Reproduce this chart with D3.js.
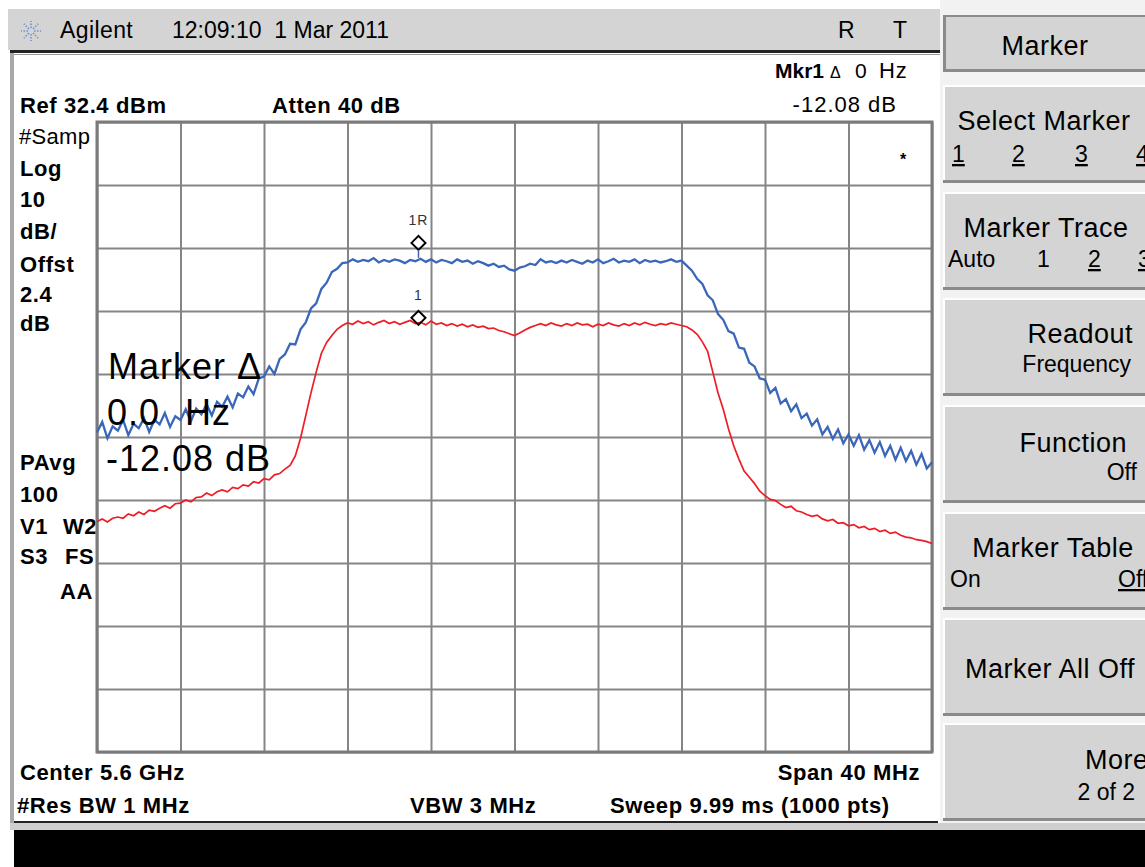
<!DOCTYPE html>
<html>
<head>
<meta charset="utf-8">
<script src="https://cdn.jsdelivr.net/npm/d3@7"></script>
<style>
  body { margin: 0; background: #fff; overflow: hidden; }
  svg { display: block; }
  text { font-family: "Liberation Sans", Arial, sans-serif; }
</style>
</head>
<body>
<svg id="screen" width="1145" height="867"></svg>
<script>
// analyzer settings
const refLevel = 32.4,
    dbPerDiv = 10,
    startMHz = -20,
    stopMHz = 20,
    stepMHz = 0.25;

const freqTicks = [-20, -16, -12, -8, -4, 0, 4, 8, 12, 16, 20];
const levelTicks = [32.4, 22.4, 12.4, 2.4, -7.6, -17.6, -27.6, -37.6, -47.6, -57.6, -67.6];

// trace 1 (red), dBm every 0.25 MHz from -20 to +20 MHz
const redTrace = [
    -31.0, -30.6, -31.1, -30.5, -30.3, -30.5, -29.8, -30.1,
    -29.5, -29.9, -29.2, -29.4, -28.9, -28.5, -28.9, -28.2,
    -28.1, -27.6, -27.9, -27.2, -27.1, -26.5, -26.9, -26.3,
    -26.0, -26.3, -25.6, -25.8, -25.2, -25.4, -24.7, -24.9,
    -24.2, -24.4, -23.6, -23.4, -22.7, -22.1, -20.6, -17.8,
    -14.2, -10.6, -7.3, -4.3, -2.6, -1.5, -0.5, 0.1,
    0.5, 0.3, 0.8, 0.4, 0.7, 0.2, 0.6, 0.9,
    0.4, 0.7, 0.3, 0.6, 0.9, 0.4, 0.6, 0.2,
    0.8, 0.3, 0.5, 0.1, 0.4, 0.0, 0.3, -0.1,
    0.2, -0.2, 0.0, -0.4, -0.3, -0.7, -0.9, -1.2,
    -1.5, -1.1, -0.6, -0.2, 0.1, 0.4, 0.1, 0.5,
    0.2, 0.0, 0.4, 0.1, 0.5, 0.2, 0.3, -0.1,
    0.3, 0.1, 0.5, 0.2, 0.0, 0.4, 0.1, 0.5,
    0.2, 0.6, 0.3, 0.1, 0.4, 0.2, 0.5, 0.3,
    0.1, -0.1, -0.6, -1.3, -2.5, -4.0, -7.3, -10.6,
    -13.2, -16.3, -19.0, -21.1, -23.0, -24.0, -25.0, -26.2,
    -26.9, -27.5, -27.7, -28.3, -28.8, -28.6, -29.3, -29.5,
    -29.9, -30.2, -30.0, -30.6, -30.9, -30.7, -31.3, -31.2,
    -31.7, -31.5, -32.0, -31.8, -32.3, -32.1, -32.6, -32.4,
    -32.9, -32.7, -33.2, -33.5, -33.6, -33.9, -34.0, -34.2,
    -34.5
];

// trace 2 (blue)
const blueTrace = [
    -16.9, -15.2, -17.8, -15.9, -16.6, -14.9, -17.3, -15.5,
    -16.2, -14.6, -16.8, -14.9, -15.6, -13.8, -16.0, -14.3,
    -14.9, -13.2, -15.1, -13.1, -14.0, -12.4, -14.2, -12.0,
    -12.8, -11.2, -12.9, -10.7, -11.3, -9.6, -10.8, -8.3,
    -8.0, -6.4, -7.6, -5.2, -4.5, -2.8, -2.9, -0.5,
    0.6, 2.8, 3.6, 5.9, 6.9, 8.6, 9.1, 10.0,
    10.1, 10.6, 10.2, 10.5, 10.3, 10.8, 10.1, 10.5,
    10.2, 10.6, 10.4, 10.0, 10.5, 10.3, 10.7, 10.2,
    10.6, 10.1, 10.5, 10.3, 10.0, 10.6, 10.2, 10.4,
    9.9, 10.3, 10.0, 9.6, 9.9, 9.4, 9.6, 9.0,
    8.8, 9.3, 9.5, 9.9, 9.7, 10.6, 10.1, 10.3,
    10.0, 10.4, 10.1, 10.5, 10.2, 9.9, 10.4, 10.1,
    10.6, 10.0, 10.3, 10.7, 10.1, 10.4, 10.2, 10.6,
    10.0, 10.5, 10.2, 10.4, 10.1, 10.3, 10.6, 10.2,
    10.4, 9.6, 8.8, 7.5, 6.7, 4.9, 4.1, 1.9,
    1.0, -0.8, -1.2, -3.4, -3.6, -5.8, -6.4, -8.3,
    -8.5, -10.6, -9.8, -12.3, -11.6, -13.5, -12.4, -14.6,
    -13.9, -15.8, -14.8, -17.2, -16.0, -17.9, -16.4, -18.6,
    -17.2, -19.0, -17.3, -19.6, -18.1, -20.1, -18.4, -20.6,
    -19.0, -21.2, -19.3, -21.4, -19.8, -22.0, -20.3, -22.6,
    -21.6
];

const markerFreqs = [-4.6, -4.6];
const markerLevels = [12.1, 0.2];
const markerNames = ['1R', '1'];

const leftLabels = ['#Samp', 'Log', '10', 'dB/', 'Offst', '2.4', 'dB'];
const softkeyTitles = ['Select Marker', 'Marker Trace', 'Readout', 'Function', 'Marker Table', 'Marker All Off', 'More'];

const colors = {
    panel: '#d4d4d4',
    grid: '#858585',
    red: '#ee1c25',
    blue: '#3b67ba'
};

const svg = d3.select('#screen');

const x = d3.scaleLinear().domain([startMHz, stopMHz]).range([97, 932]),
    y = d3.scaleLinear().domain([refLevel - dbPerDiv * 10, refLevel]).range([752, 122]);

function label(g, px, py, str, size, opts) {
    opts = opts || {};
    return g.append('text')
        .attr('x', px)
        .attr('y', py)
        .attr('font-size', size)
        .attr('font-weight', opts.bold ? 'bold' : 'normal')
        .attr('text-anchor', opts.anchor || 'start')
        .attr('letter-spacing', opts.ls || null)
        .attr('fill', opts.fill || '#000')
        .attr('text-decoration', opts.underline ? 'underline' : null)
        .text(str);
}

// frame
svg.append('rect').attr('width', 1145).attr('height', 867).attr('fill', '#fff');
svg.append('rect').attr('x', 8).attr('y', 9).attr('width', 932).attr('height', 41).attr('fill', colors.panel);
svg.append('rect').attr('x', 10).attr('y', 50).attr('width', 930).attr('height', 3).attr('fill', '#222');
svg.append('rect').attr('x', 14).attr('y', 54).attr('width', 926).attr('height', 1).attr('fill', '#999');
svg.append('rect').attr('x', 10).attr('y', 53).attr('width', 4).attr('height', 777).attr('fill', '#a8a8a8');
svg.append('rect').attr('x', 14).attr('y', 821).attr('width', 924).attr('height', 2).attr('fill', '#222');
svg.append('rect').attr('x', 10).attr('y', 823).attr('width', 1135).attr('height', 7).attr('fill', '#cfcfcf');
svg.append('rect').attr('x', 14).attr('y', 830).attr('width', 1131).attr('height', 37).attr('fill', '#000');

// header
const head = svg.append('g');
const logo = head.append('g').attr('transform', 'translate(31,31)');
d3.range(8).forEach(i => {
    const a = i * Math.PI / 4;
    logo.append('line')
        .attr('x1', Math.cos(a) * 3).attr('y1', Math.sin(a) * 3)
        .attr('x2', Math.cos(a) * 10).attr('y2', Math.sin(a) * 10)
        .attr('stroke', '#6f8fcc')
        .attr('stroke-width', 1.6)
        .attr('stroke-dasharray', '1.5,1.5');
});
label(head, 60, 38, 'Agilent', 23, { ls: 0.4 });
label(head, 172, 38, '12:09:10  1 Mar 2011', 23).attr('xml:space', 'preserve');
label(head, 838, 38, 'R', 23);
label(head, 893, 38, 'T', 23);

// annotations
const ann = svg.append('g');
const bold = { bold: true, ls: 0.6 };
label(ann, 20, 113, 'Ref 32.4 dBm', 22, bold);
label(ann, 272, 113, 'Atten 40 dB', 22, bold);
label(ann, 775, 78, 'Mkr1', 21, { bold: true });
label(ann, 830, 78, '\u0394', 16);
label(ann, 855, 78, '0', 21);
label(ann, 879, 78, 'Hz', 22, { ls: 0.8 });
label(ann, 897, 112, '-12.08 dB', 22, { anchor: 'end', ls: 1 });

label(ann, 19, 144, leftLabels[0], 22, { ls: 0.3 });
const leftY = [176, 207, 239, 272, 302, 331];
leftLabels.slice(1).forEach((t, i) => label(ann, 20, leftY[i], t, 22, bold));
label(ann, 20, 470, 'PAvg', 22, bold);
label(ann, 20, 502, '100', 22, bold);
label(ann, 20, 534, 'V1', 22, bold);
label(ann, 63, 534, 'W2', 22, bold);
label(ann, 20, 564, 'S3', 22, bold);
label(ann, 65, 564, 'FS', 22, bold);
label(ann, 60, 599, 'AA', 22, bold);

label(ann, 20, 780, 'Center 5.6 GHz', 22, bold);
label(ann, 17, 813, '#Res BW 1 MHz', 22, bold);
label(ann, 410, 813, 'VBW 3 MHz', 22, bold);
label(ann, 920, 780, 'Span 40 MHz', 22, { bold: true, ls: 0.6, anchor: 'end' });
label(ann, 610, 813, 'Sweep 9.99 ms (1000 pts)', 22, bold);

// graticule
const grid = svg.append('g');
grid.append('g')
    .attr('transform', `translate(0,${y.range()[0]})`)
    .call(d3.axisBottom(x).tickValues(freqTicks).tickSize(-(y.range()[0] - y.range()[1])).tickFormat(''));
grid.append('g')
    .attr('transform', `translate(${x.range()[0]},0)`)
    .call(d3.axisLeft(y).tickValues(levelTicks).tickSize(-(x.range()[1] - x.range()[0])).tickFormat(''));
grid.selectAll('.domain').remove();
grid.selectAll('line').attr('stroke', colors.grid).attr('stroke-width', 2);
grid.append('rect')
    .attr('x', x.range()[0]).attr('y', y.range()[1])
    .attr('width', x.range()[1] - x.range()[0])
    .attr('height', y.range()[0] - y.range()[1])
    .attr('fill', 'none').attr('stroke', '#7a7a7a').attr('stroke-width', 3);

label(svg, 903, 165, '*', 16, { bold: true, anchor: 'middle' });

// traces
const freqs = d3.range(startMHz, stopMHz + stepMHz / 2, stepMHz);
const line = d3.line().x((d, i) => x(freqs[i])).y(d => y(d));

svg.append('path')
    .datum(redTrace)
    .attr('d', line)
    .attr('fill', 'none')
    .attr('stroke', colors.red)
    .attr('stroke-width', 1.7);

svg.append('path')
    .datum(blueTrace)
    .attr('d', line)
    .attr('fill', 'none')
    .attr('stroke', colors.blue)
    .attr('stroke-width', 2.3);

// markers
const mk = svg.append('g');
markerFreqs.forEach((f, i) => {
    const mx = x(f), my = y(markerLevels[i]);
    mk.append('path')
        .attr('d', `M${mx},${my} L${mx - 7},${my - 7} L${mx},${my - 14} L${mx + 7},${my - 7} Z`)
        .attr('fill', 'none')
        .attr('stroke', '#000')
        .attr('stroke-width', 2);
    label(mk, mx, my - 25, markerNames[i], 14, { anchor: 'middle', fill: '#333', ls: 1 })
        .attr('font-family', '"DejaVu Sans Mono", monospace');
});
// stem from the reference marker down to its trace
mk.append('line')
    .attr('x1', x(markerFreqs[0])).attr('x2', x(markerFreqs[0]))
    .attr('y1', y(markerLevels[0])).attr('y2', y(markerLevels[0]) + 8)
    .attr('stroke', colors.blue).attr('stroke-width', 1.5);

// big marker readout
const big = svg.append('g');
label(big, 108, 379, 'Marker \u0394', 36, { ls: 1 });
label(big, 107, 425, '0.0', 36, { ls: 1 });
label(big, 185, 425, 'Hz', 36, { ls: 1 });
label(big, 106, 471, '-12.08 dB', 36, { ls: 1 });

// softkeys
const keys = svg.append('g');
keys.append('rect').attr('x', 940).attr('y', 0).attr('width', 205).attr('height', 823).attr('fill', '#f2f2f2');

function key(top, h) {
    keys.append('rect').attr('x', 943).attr('y', top).attr('width', 210).attr('height', h).attr('fill', colors.panel);
    keys.append('rect').attr('x', 943).attr('y', top).attr('width', 210).attr('height', 2).attr('fill', '#fff');
    keys.append('rect').attr('x', 943).attr('y', top).attr('width', 2).attr('height', h).attr('fill', '#fff');
    keys.append('rect').attr('x', 943).attr('y', top + h - 3).attr('width', 210).attr('height', 3).attr('fill', '#8a8a8a');
}

key(15, 57);
keys.append('rect').attr('x', 943).attr('y', 15).attr('width', 3).attr('height', 57).attr('fill', '#8a8a8a');
keys.append('rect').attr('x', 943).attr('y', 15).attr('width', 210).attr('height', 2).attr('fill', '#8a8a8a');
label(keys, 1045, 55, 'Marker', 27, { anchor: 'middle', ls: 0.5 });

const keyTops = [85, 192, 298, 405, 512, 618, 723];
keyTops.forEach(t => key(t, 98));

label(keys, 1044, 130, softkeyTitles[0], 27, { anchor: 'middle', ls: 0.5 });
[['1', 952], ['2', 1012], ['3', 1075], ['4', 1136]].forEach(d => label(keys, d[1], 162, d[0], 23, { underline: true }));

label(keys, 1046, 237, softkeyTitles[1], 27, { anchor: 'middle', ls: 0.5 });
label(keys, 948, 267, 'Auto', 23);
label(keys, 1037, 267, '1', 23);
label(keys, 1088, 267, '2', 23, { underline: true });
label(keys, 1138, 267, '3', 23, { underline: true });

label(keys, 1133, 343, softkeyTitles[2], 27, { anchor: 'end', ls: 0.5 });
label(keys, 1131, 372, 'Frequency', 23, { anchor: 'end' });

label(keys, 1127, 452, softkeyTitles[3], 27, { anchor: 'end', ls: 0.5 });
label(keys, 1137, 480, 'Off', 23, { anchor: 'end' });

label(keys, 1053, 557, softkeyTitles[4], 27, { anchor: 'middle', ls: 0.5 });
label(keys, 950, 587, 'On', 23);
label(keys, 1118, 587, 'Off', 23, { underline: true });

label(keys, 1050, 678, softkeyTitles[5], 27, { anchor: 'middle', ls: 0.5 });

label(keys, 1085, 769, softkeyTitles[6], 27, { ls: 0.5 });
label(keys, 1135, 800, '2 of 2', 23, { anchor: 'end' });
</script>
</body>
</html>
